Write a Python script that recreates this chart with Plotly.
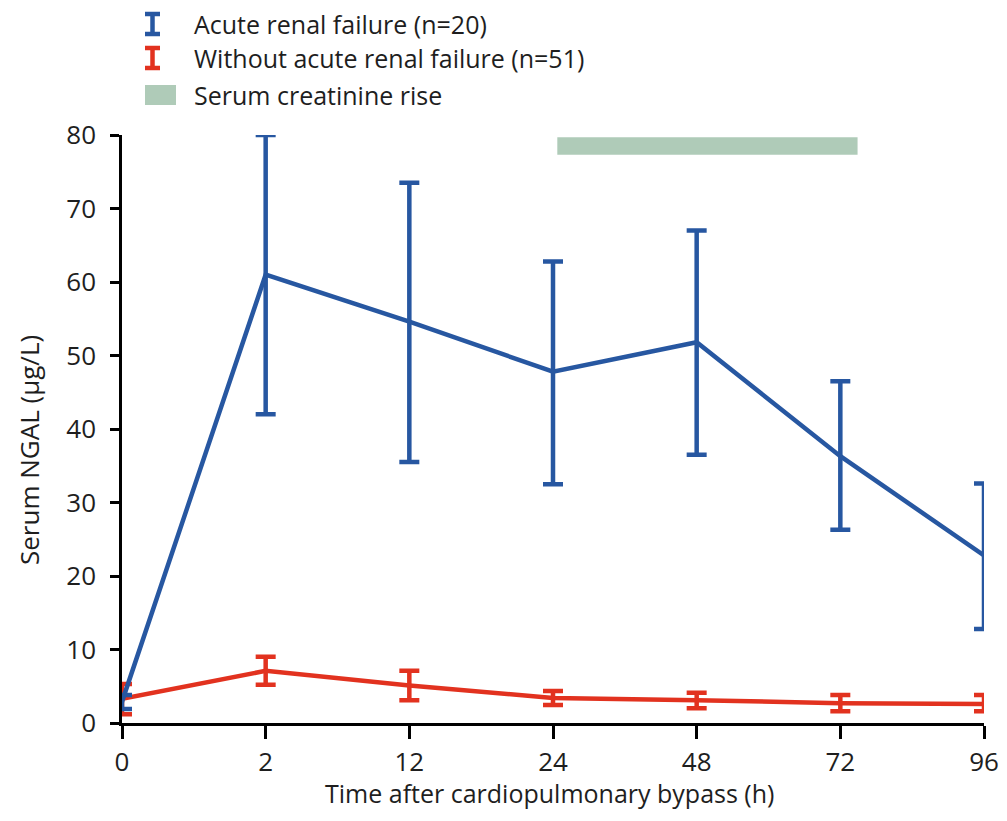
import plotly.graph_objects as go

# ---- data ----
time_labels = ["0", "2", "12", "24", "48", "72", "96"]

arf_mean = [2.9, 61.0, 54.6, 47.8, 51.8, 36.3, 22.8]
arf_upper = [3.8, 80.0, 73.5, 62.8, 67.0, 46.5, 32.6]
arf_lower = [1.9, 42.0, 35.5, 32.5, 36.5, 26.3, 12.8]

noarf_mean = [3.3, 7.1, 5.1, 3.4, 3.1, 2.7, 2.6]
noarf_upper = [5.3, 9.0, 7.1, 4.35, 4.1, 3.8, 3.8]
noarf_lower = [1.2, 5.2, 3.1, 2.45, 2.0, 1.6, 1.6]

creat_rise_start = 3.03   # category position (just after 24 h)
creat_rise_end = 5.12     # category position (just after 72 h)
creat_rise_y = [77.3, 79.7]

legend_names = ["Acute renal failure (n=20)", "Without acute renal failure (n=51)", "Serum creatinine rise"]
x_title = "Time after cardiopulmonary bypass (h)"
y_title = "Serum NGAL (µg/L)"

BLUE = "#2757A1"
RED = "#E2321F"
GREEN = "#AFCBB8"
FONT = "'Open Sans', sans-serif"
TXT = "#1e1e1e"

x = list(range(len(time_labels)))

fig = go.Figure()

def add_series(mean, upper, lower, color):
    fig.add_trace(go.Scatter(
        x=x, y=mean, mode="lines",
        line=dict(color=color, width=4.5),
        error_y=dict(type="data", symmetric=False,
                     array=[u - m for u, m in zip(upper, mean)],
                     arrayminus=[m - l for m, l in zip(mean, lower)],
                     color=color, thickness=4.5, width=10),
        cliponaxis=False, showlegend=False, hoverinfo="skip"))

add_series(noarf_mean, noarf_upper, noarf_lower, RED)
add_series(arf_mean, arf_upper, arf_lower, BLUE)

# green bar
fig.add_shape(type="rect", xref="x", yref="y",
              x0=creat_rise_start, x1=creat_rise_end,
              y0=creat_rise_y[0], y1=creat_rise_y[1],
              fillcolor=GREEN, line=dict(width=0), layer="below")

# ---- layout geometry (pixels, figure sits 8px into the page) ----
W, H = 995, 805
L, T = 114, 127
R = W - 976
B = H - 715
pw, ph = W - L - R, H - T - B

def px(xp):
    return (xp - L) / pw

def py(yp):
    return (H - B - yp) / ph

# manual legend
rows = [16, 50, 87]
colors = [BLUE, RED]
for i, yc in enumerate(rows):
    if i < 2:
        c = colors[i]
        fig.add_shape(type="line", xref="paper", yref="paper",
                      x0=px(144.5), x1=px(144.5), y0=py(yc - 10), y1=py(yc + 10),
                      line=dict(color=c, width=4.5))
        for yy in (yc - 10, yc + 10):
            fig.add_shape(type="line", xref="paper", yref="paper",
                          x0=px(137), x1=px(152), y0=py(yy), y1=py(yy),
                          line=dict(color=c, width=4.5))
    else:
        fig.add_shape(type="rect", xref="paper", yref="paper",
                      x0=px(137), x1=px(168), y0=py(yc - 10), y1=py(yc + 10),
                      fillcolor=GREEN, line=dict(width=0))
    fig.add_annotation(x=px(184), y=py(yc), xref="paper", yref="paper",
                       text=legend_names[i], showarrow=False,
                       xanchor="left", yanchor="middle",
                       font=dict(family=FONT, size=25, color=TXT))

# axis titles
fig.add_annotation(x=px(541), y=py(H - 1), xref="paper", yref="paper",
                   text=x_title, showarrow=False, xanchor="center", yanchor="bottom",
                   font=dict(family=FONT, size=25, color=TXT))
fig.add_annotation(x=px(1), y=py(442), xref="paper", yref="paper",
                   text=y_title, showarrow=False, textangle=-90,
                   xanchor="left", yanchor="middle",
                   font=dict(family=FONT, size=26, color=TXT))

fig.update_layout(
    template="none",
    width=W, height=H,
    margin=dict(l=L, r=R, t=T, b=B, pad=0, autoexpand=False),
    paper_bgcolor="white", plot_bgcolor="white",
    font=dict(family=FONT, size=25, color=TXT),
    showlegend=False,
    xaxis=dict(range=[0, 6], tickvals=x, ticktext=time_labels,
               automargin=False, ticklabeloverflow="allow",
               showgrid=False, zeroline=False,
               showline=True, linecolor="black", linewidth=2.5,
               ticks="outside", ticklen=13, tickwidth=2.5, tickcolor="black",
               tickfont=dict(size=26), ticklabelstandoff=1),
    yaxis=dict(range=[0, 80], tickvals=[0, 10, 20, 30, 40, 50, 60, 70, 80],
               automargin=False,
               showgrid=False, zeroline=False,
               showline=True, linecolor="black", linewidth=2.5,
               ticks="outside", ticklen=9, tickwidth=2.5, tickcolor="black",
               tickfont=dict(size=26), ticklabelstandoff=9),
)

fig.write_html("out.html")
